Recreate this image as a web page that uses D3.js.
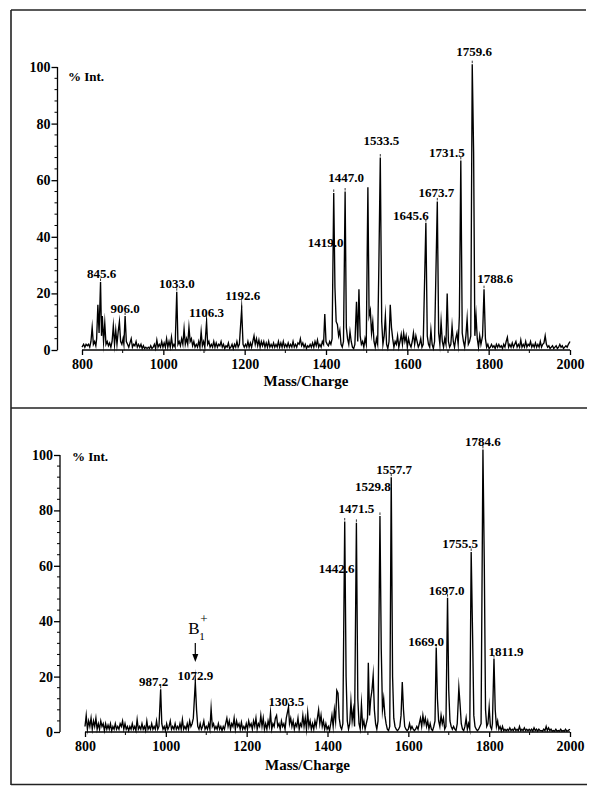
<!DOCTYPE html>
<html>
<head>
<meta charset="utf-8">
<script src="https://cdn.jsdelivr.net/npm/d3@7/dist/d3.min.js"></script>
<style>
  html, body { margin: 0; padding: 0; background: #fff; }
  svg { display: block; }
  text { font-family: "Liberation Serif", "Times New Roman", serif; fill: #000; }
</style>
</head>
<body>
<svg id="chart" width="602" height="793"></svg>
<script>
// ---------------- DATA ----------------
const xTicks = [800, 1000, 1200, 1400, 1600, 1800, 2000];
const yTicks = [0, 20, 40, 60, 80, 100];
const xLabel = "Mass/Charge";
const yLabel = "% Int.";

// Top spectrum: [m/z, % intensity]
const topSpectrum = [
[800,1],[804,2],[807,1],[810,2],[813,1.5],[816,2],[819,1],[822,3],[825,8],[828,2],[831,3],[834,1.5],[836,4],[839,16],[842,6],[845.6,24],[848,5],[850,12],[853,3],[856,9.5],[859,2],[862,3],[865,1.5],[868,2.5],[871,1],[874,3],[877,8.5],[880,2],[883,7],[886,2],[889,6.5],[892,10],[895,3],[898,2],[901,4],[903,2],[906,12],[909,3],[912,2],[915,1],[918,2.5],[921,4],[924,1],[927,2],[930,1.5],[933,3],[936,1],[939,2],[942,1],[945,2],[948,0.5],[951,1.5],[954,0.5],[957,1],[960,0.5],[963,1],[966,0.5],[969,1.5],[972,0.5],[975,1],[978,2],[981,0.5],[984,3.5],[987,1],[990,2],[993,1],[996,3],[999,1],[1002,2.5],[1005,1],[1008,4],[1011,1],[1014,3],[1017,1],[1020,4.5],[1023,1],[1026,2],[1029,1],[1033,20.6],[1036,2],[1039,3],[1042,1.5],[1045,4],[1048,2],[1051,7.5],[1054,2],[1057,4],[1060,2],[1063,8],[1066,3],[1069,4],[1072,1.5],[1075,3],[1078,1],[1081,2],[1084,1],[1087,3],[1090,1],[1093,6.5],[1096,1.5],[1099,3],[1102,1],[1106.3,10],[1109,2],[1112,3],[1115,1],[1118,2],[1121,1],[1124,3],[1127,1],[1130,2.5],[1133,1],[1136,2],[1139,1.5],[1142,3],[1145,1],[1148,2],[1151,0.5],[1154,1.5],[1157,1],[1160,2.5],[1163,0.5],[1166,1],[1169,2],[1172,0.5],[1175,2],[1178,1],[1181,3],[1184,1],[1187,2],[1192.6,14.5],[1196,2],[1199,1],[1202,2],[1205,1],[1208,3],[1211,1],[1214,2.5],[1217,1],[1220,3],[1223,5],[1226,2],[1229,4],[1232,1.5],[1235,3.5],[1238,1],[1241,3],[1244,1.5],[1247,3],[1250,1],[1253,2.5],[1256,1],[1259,3],[1262,1],[1265,2],[1268,1],[1271,2.5],[1274,1],[1277,2],[1280,1],[1283,3],[1286,1],[1289,2.5],[1292,1],[1295,3],[1298,1],[1301,2],[1304,1],[1307,2.5],[1310,1],[1313,2],[1316,1],[1319,3],[1322,1],[1325,2],[1328,1],[1331,2.5],[1334,2],[1337,4],[1340,1.5],[1343,2.5],[1346,1],[1349,2],[1352,0.5],[1355,1.5],[1358,1],[1361,2],[1364,1],[1367,2.5],[1370,1],[1373,3],[1376,1.5],[1379,3.5],[1382,1],[1385,2],[1388,1],[1391,3],[1394,2],[1397,12.7],[1400,3],[1403,2],[1406,1.5],[1409,3],[1412,2],[1415,4],[1419,55.5],[1422,22],[1425,10],[1428,9],[1431,5],[1434,7],[1437,2],[1440,1],[1443,3],[1447,56],[1450,8],[1453,4],[1456,2],[1459,6.5],[1462,3],[1465,1],[1468,0.5],[1471,2],[1475,17],[1478,3],[1481,21.5],[1484,5],[1487,2],[1490,3],[1493,1],[1496,4],[1499,2],[1503,57.5],[1506,12],[1509,14],[1512,6],[1515,10],[1518,3],[1521,1],[1524,4],[1527,2],[1530,30],[1533.5,68],[1537,10],[1540,2],[1543,5],[1546,12],[1549,2],[1552,0.5],[1555,3],[1558,16],[1561,8],[1564,4],[1567,1],[1570,3],[1573,2],[1576,5],[1579,1],[1582,3],[1585,5.5],[1588,2],[1591,6],[1594,3],[1597,5],[1600,1],[1603,4],[1606,2],[1609,1],[1612,3],[1615,6],[1618,2],[1621,5],[1624,3],[1627,1],[1630,2],[1633,4],[1636,1],[1639,2],[1645.6,45],[1649,5],[1652,2],[1655,1],[1658,7],[1661,2],[1664,0.5],[1667,3],[1673.7,52.5],[1677,6],[1680,2],[1683,10],[1686,3],[1689,1],[1692,4],[1695,2],[1698,20],[1701,3],[1704,1],[1707,2],[1710,8.5],[1713,3],[1716,1],[1719,4],[1722,6],[1725,2],[1728,12],[1731.5,67],[1735,6],[1738,3],[1741,1],[1744,5],[1747,11],[1750,2],[1753,3],[1756,5],[1759.6,101],[1763,70],[1766,5],[1769,12],[1772,4],[1775,1],[1778,5],[1781,2],[1785,5],[1788.6,21.5],[1792,4],[1795,1],[1798,2],[1801,0.5],[1804,1],[1807,2],[1810,1],[1813,1.5],[1816,0.5],[1819,2],[1822,1],[1825,2],[1828,1],[1831,1.5],[1834,0.5],[1837,2],[1840,1],[1843,3],[1846,4.5],[1849,1],[1852,2],[1855,1],[1858,2.5],[1861,1],[1864,2],[1867,3],[1870,1],[1873,2],[1876,1],[1879,3.5],[1882,1],[1885,2],[1888,1],[1891,3],[1894,1],[1897,2],[1900,1.5],[1903,3],[1906,1],[1909,2],[1912,1],[1915,2.5],[1918,1],[1921,2],[1924,1],[1927,3],[1930,1],[1933,2],[1936,2.5],[1939,5],[1942,2],[1945,1],[1948,1.5],[1951,0.5],[1954,1],[1957,1.5],[1960,0.5],[1963,1],[1966,1.5],[1969,0.5],[1972,1],[1975,2],[1978,1],[1981,1.5],[1984,0.5],[1987,1],[1990,1.5],[1993,1],[1996,2],[2000,3]
];

// Bottom spectrum
const bottomSpectrum = [
[800,2],[803,6],[806,1],[809,4],[812,2],[815,5],[818,1],[821,4],[824,2],[827,5],[830,1],[833,3],[836,1],[839,4],[842,2],[845,3],[848,0.5],[851,3],[854,1],[857,2.5],[860,1],[863,3],[866,0.5],[869,2],[872,1],[875,3],[878,1],[881,2],[884,1],[887,3],[890,2],[893,4],[896,1],[899,3],[902,1],[905,2],[908,0.5],[911,2],[914,1],[917,3],[920,1],[923,2],[926,0.5],[929,4.5],[932,1],[935,2],[938,1],[941,3],[944,1],[947,2],[950,0.5],[953,4],[956,1],[959,2],[962,1],[965,3],[968,1],[971,2],[974,1],[977,4],[980,1],[983,2],[987.2,15.4],[990,3],[993,1],[996,2],[999,0.5],[1002,3],[1005,1],[1008,2],[1011,4],[1014,1],[1017,2],[1020,1],[1023,3],[1026,1],[1029,2],[1032,1],[1035,3],[1038,1],[1041,4.5],[1044,1],[1047,2],[1050,1],[1053,3],[1056,1],[1059,4],[1062,2],[1065,3],[1068,5],[1072.9,18],[1076,8],[1079,2],[1082,1],[1085,3],[1088,1],[1091,2],[1094,4],[1097,1],[1100,2],[1103,1],[1106,3],[1109,1],[1112,8.5],[1115,2],[1118,3],[1121,1],[1124,2],[1127,1],[1130,3],[1133,1],[1136,2],[1139,0.5],[1142,2],[1145,1],[1148,3],[1151,5],[1154,2],[1157,4],[1160,1],[1163,3],[1166,2],[1169,5],[1172,1],[1175,4],[1178,2],[1181,3],[1184,1],[1187,3.5],[1190,1],[1193,2],[1196,1],[1199,3],[1202,1],[1205,4],[1208,2],[1211,3],[1214,1],[1217,4],[1220,2],[1223,5],[1226,1],[1229,3],[1232,2],[1235,6],[1238,2],[1241,5],[1244,1],[1247,3],[1250,1],[1253,4],[1256,2],[1259,7],[1262,1],[1265,3],[1268,2],[1271,5],[1274,6],[1277,2],[1280,3],[1283,1],[1286,4],[1289,2],[1292,3],[1295,1],[1298,5],[1303.5,9],[1306,3],[1309,5],[1312,2],[1315,4],[1318,1],[1321,3],[1324,2],[1327,5],[1330,1],[1333,3],[1336,2],[1339,6],[1342,2],[1345,5],[1348,1],[1351,7],[1354,2],[1357,4],[1360,1],[1363,3],[1366,1],[1369,4],[1372,2],[1375,5],[1378,8],[1381,3],[1384,6],[1387,2],[1390,4],[1393,1],[1396,3],[1399,1],[1402,2],[1405,0.5],[1408,3],[1411,6],[1414,2],[1417,8],[1420,4],[1423,15],[1426,14],[1429,5],[1432,2],[1435,1],[1438,3],[1442.6,76],[1446,20],[1449,4],[1452,1],[1455,3],[1458,11],[1461,4],[1464,8],[1467,2],[1471.5,75.5],[1475,12],[1478,3],[1481,1],[1484,10],[1487,2],[1490,4],[1493,1],[1496,3],[1499,5],[1501,25],[1504,6],[1507,12],[1510,15],[1513,20.5],[1516,8],[1519,3],[1522,1],[1525,4],[1529.8,78],[1533,30],[1536,8],[1539,12],[1542,6],[1545,3],[1548,1],[1551,0.5],[1554,2],[1557.7,92],[1561,20],[1564,5],[1567,2],[1570,1],[1573,0.5],[1576,1],[1579,2],[1582,6],[1585,18],[1588,8],[1591,2],[1594,1],[1597,0.5],[1600,1],[1603,3],[1606,1],[1609,2],[1612,1],[1615,0.5],[1618,1],[1621,2],[1624,1],[1627,3],[1630,5],[1633,2],[1636,6],[1639,3],[1642,5],[1645,2],[1648,4],[1651,1],[1654,3],[1657,1],[1660,0.5],[1663,2],[1666,4],[1669,30.5],[1672,12],[1675,4],[1678,2],[1681,6],[1684,3],[1687,5],[1690,1],[1693,2],[1697,48.5],[1700,15],[1703,4],[1706,2],[1709,1],[1712,2],[1715,1],[1718,0.5],[1721,3],[1725,16],[1728,10],[1731,3],[1734,1],[1737,0.5],[1740,2],[1743,5],[1746,1],[1749,3],[1752,1],[1755.5,65],[1759,35],[1762,6],[1765,2],[1768,1],[1771,0.5],[1774,1],[1777,2],[1780,3],[1784.6,102],[1788,60],[1791,8],[1794,2],[1797,3],[1800,9],[1803,2],[1806,1],[1808,3],[1811.9,26.5],[1815,8],[1818,2],[1821,4],[1824,1],[1827,2],[1830,0.5],[1833,2],[1836,0.5],[1839,1],[1842,0.5],[1845,1],[1848,0.5],[1851,1.5],[1854,0.5],[1857,1],[1860,0.5],[1863,1.5],[1866,0.5],[1869,1],[1872,0.5],[1875,2],[1878,0.5],[1881,1],[1884,0.5],[1887,1.5],[1890,0.5],[1893,1],[1896,0.5],[1899,1],[1902,0.5],[1905,1],[1908,0.3],[1911,1.5],[1914,0.5],[1917,1],[1920,0.3],[1923,1],[1926,0.5],[1929,0.5],[1932,0.3],[1935,1],[1938,0.5],[1941,2],[1944,0.5],[1947,1.5],[1950,0.5],[1953,1],[1956,0.3],[1959,0.5],[1962,0.3],[1965,1],[1968,0.3],[1971,0.5],[1974,0.3],[1977,1],[1980,0.3],[1983,0.5],[1986,0.3],[1989,1],[1992,0.3],[1995,0.5],[2000,1]
];

// Labelled peaks: text, m/z, apex intensity
const topPeakText = ["845.6","906.0","1033.0","1106.3","1192.6","1419.0","1447.0","1533.5","1645.6","1673.7","1731.5","1759.6","1788.6"];
const topPeakMz   = [845.6, 906.0, 1033.0, 1106.3, 1192.6, 1419.0, 1447.0, 1533.5, 1645.6, 1673.7, 1731.5, 1759.6, 1788.6];
const topPeakInt  = [24, 12, 20.6, 10, 14.5, 55.5, 56, 68, 45, 52.5, 67, 101, 21.5];

const bottomPeakText = ["987.2","1072.9","1303.5","1442.6","1471.5","1529.8","1557.7","1669.0","1697.0","1755.5","1784.6","1811.9"];
const bottomPeakMz   = [987.2, 1072.9, 1303.5, 1442.6, 1471.5, 1529.8, 1557.7, 1669.0, 1697.0, 1755.5, 1784.6, 1811.9];
const bottomPeakInt  = [15.4, 18, 9, 76, 75.5, 78, 92, 30.5, 48.5, 65, 102, 26.5];

// Ion annotation (bottom panel)
const ionMz = 1072.9;

// ---------------- LAYOUT / STYLE ----------------
// label offsets (px) relative to peak apex: [dx, dy of text baseline]
const topLabelOffsets = [[1,-4],[0,-3.5],[0,-4],[0,-4.7],[1,-8.5],[-8,54],[1,-10],[1,-13],[-15,-3],[-1,-4],[-14,-3],[2,-8],[11,-6]];
const bottomLabelOffsets = [[-7,-3],[0,-2],[-2,-1.5],[-8,52],[0,-10],[-7,-25],[3,-3],[-10,-2],[-1,-3],[-11,-3.5],[0,-3],[12,-2.5]];

const svg = d3.select("#chart");

// frame
const frame = svg.append("g").attr("stroke", "#222").attr("stroke-width", 1.6).attr("fill", "none");
frame.append("line").attr("x1", 11).attr("x2", 586).attr("y1", 10).attr("y2", 10);
frame.append("line").attr("x1", 11).attr("x2", 11).attr("y1", 10).attr("y2", 785);
frame.append("line").attr("x1", 11).attr("x2", 587).attr("y1", 408).attr("y2", 408);
frame.append("line").attr("x1", 11).attr("x2", 587).attr("y1", 784.5).attr("y2", 784.5);

function drawPanel(o) {
  const g = svg.append("g");
  const x = d3.scaleLinear().domain([800, 2000]).range([o.x0, o.x1]);
  const y = d3.scaleLinear().domain([0, 100]).range([o.y0, o.y1]);

  // y axis
  const yAxis = d3.axisLeft(y).tickValues(yTicks).tickSize(6).tickPadding(1).tickFormat(d3.format("d"));
  const ya = g.append("g").attr("transform", `translate(${o.yAxisX},0)`).call(yAxis);
  ya.select(".domain").attr("stroke", "#000").attr("stroke-width", 1.3).attr("d", `M0,${o.y1}V${o.y0}`);
  ya.selectAll(".tick line").attr("stroke", "#000").attr("stroke-width", 1.3);
  ya.selectAll(".tick text").style("font-family", "'Liberation Serif', serif").style("font-weight", "bold").style("font-size", "14px").attr("fill", "#000");
  // minor y ticks
  const minorY = d3.range(0, 101, 4).filter(v => v % 20 !== 0);
  ya.selectAll(".minor").data(minorY).join("line")
    .attr("x1", -3).attr("x2", 0).attr("y1", d => y(d)).attr("y2", d => y(d))
    .attr("stroke", "#000").attr("stroke-width", 1);

  // x axis
  const xAxis = d3.axisBottom(x).tickValues(xTicks).tickSize(5).tickPadding(4).tickFormat(d3.format("d"));
  const xa = g.append("g").attr("transform", `translate(0,${o.y0})`).call(xAxis);
  xa.select(".domain").attr("stroke", "#000").attr("stroke-width", 1.3).attr("d", `M${o.x0},0H${o.x1}`);
  xa.selectAll(".tick line").attr("stroke", "#000").attr("stroke-width", 1.3);
  xa.selectAll(".tick text").style("font-family", "'Liberation Serif', serif").style("font-weight", "bold").style("font-size", "14px").attr("fill", "#000");
  const minorX = d3.range(900, 2000, 200);
  xa.selectAll(".minor").data(minorX).join("line")
    .attr("x1", d => x(d)).attr("x2", d => x(d)).attr("y1", 0).attr("y2", 3)
    .attr("stroke", "#000").attr("stroke-width", 1);

  // axis titles
  g.append("text").attr("x", (o.x0 + o.x1) / 2 - 20).attr("y", o.titleY)
    .attr("text-anchor", "middle").style("font-weight", "bold").style("font-size", "15px").text(xLabel);
  g.append("text").attr("x", o.yLabelX).attr("y", o.yLabelY)
    .style("font-weight", "bold").style("font-size", "13px").text(yLabel);

  // spectrum trace
  const line = d3.line().x(d => x(d[0])).y(d => y(d[1]));
  g.append("path").datum(o.spectrum).attr("d", line)
    .attr("fill", "none").attr("stroke", "#000").attr("stroke-width", 1.35)
    .attr("stroke-linejoin", "miter").attr("stroke-miterlimit", 20);

  // peak labels
  o.text.forEach((t, i) => {
    const px = x(o.mz[i]), py = y(o.int[i]);
    const [dx, dy] = o.offsets[i];
    // apex marker
    g.append("line").attr("x1", px).attr("x2", px).attr("y1", py - 1).attr("y2", py - 3.5)
      .attr("stroke", "#000").attr("stroke-width", 0.8);
    g.append("text").attr("x", px + dx).attr("y", py + dy).attr("text-anchor", "middle")
      .style("font-weight", "bold").style("font-size", "13px").text(t);
  });
  return { x, y, g };
}

drawPanel({
  x0: 82, x1: 570, y0: 350, y1: 67, yAxisX: 57.5,
  titleY: 386, yLabelX: 68, yLabelY: 81,
  spectrum: topSpectrum, text: topPeakText, mz: topPeakMz, int: topPeakInt, offsets: topLabelOffsets
});

const bot = drawPanel({
  x0: 85, x1: 570, y0: 732, y1: 455, yAxisX: 60,
  titleY: 770, yLabelX: 72, yLabelY: 461,
  spectrum: bottomSpectrum, text: bottomPeakText, mz: bottomPeakMz, int: bottomPeakInt, offsets: bottomLabelOffsets
});

// B1+ annotation with arrow
const ax = bot.x(ionMz);
bot.g.append("line").attr("x1", ax).attr("x2", ax).attr("y1", 643).attr("y2", 655)
  .attr("stroke", "#000").attr("stroke-width", 1.2);
bot.g.append("path").attr("d", `M${ax - 3},654 L${ax + 3},654 L${ax},662 Z`).attr("fill", "#000");
bot.g.append("text").attr("x", ax - 7).attr("y", 634).style("font-size", "17px").text("B");
bot.g.append("text").attr("x", ax + 4).attr("y", 640).style("font-size", "11px").text("1");
bot.g.append("text").attr("x", ax + 5).attr("y", 623).style("font-size", "13px").text("+");
</script>
</body>
</html>
